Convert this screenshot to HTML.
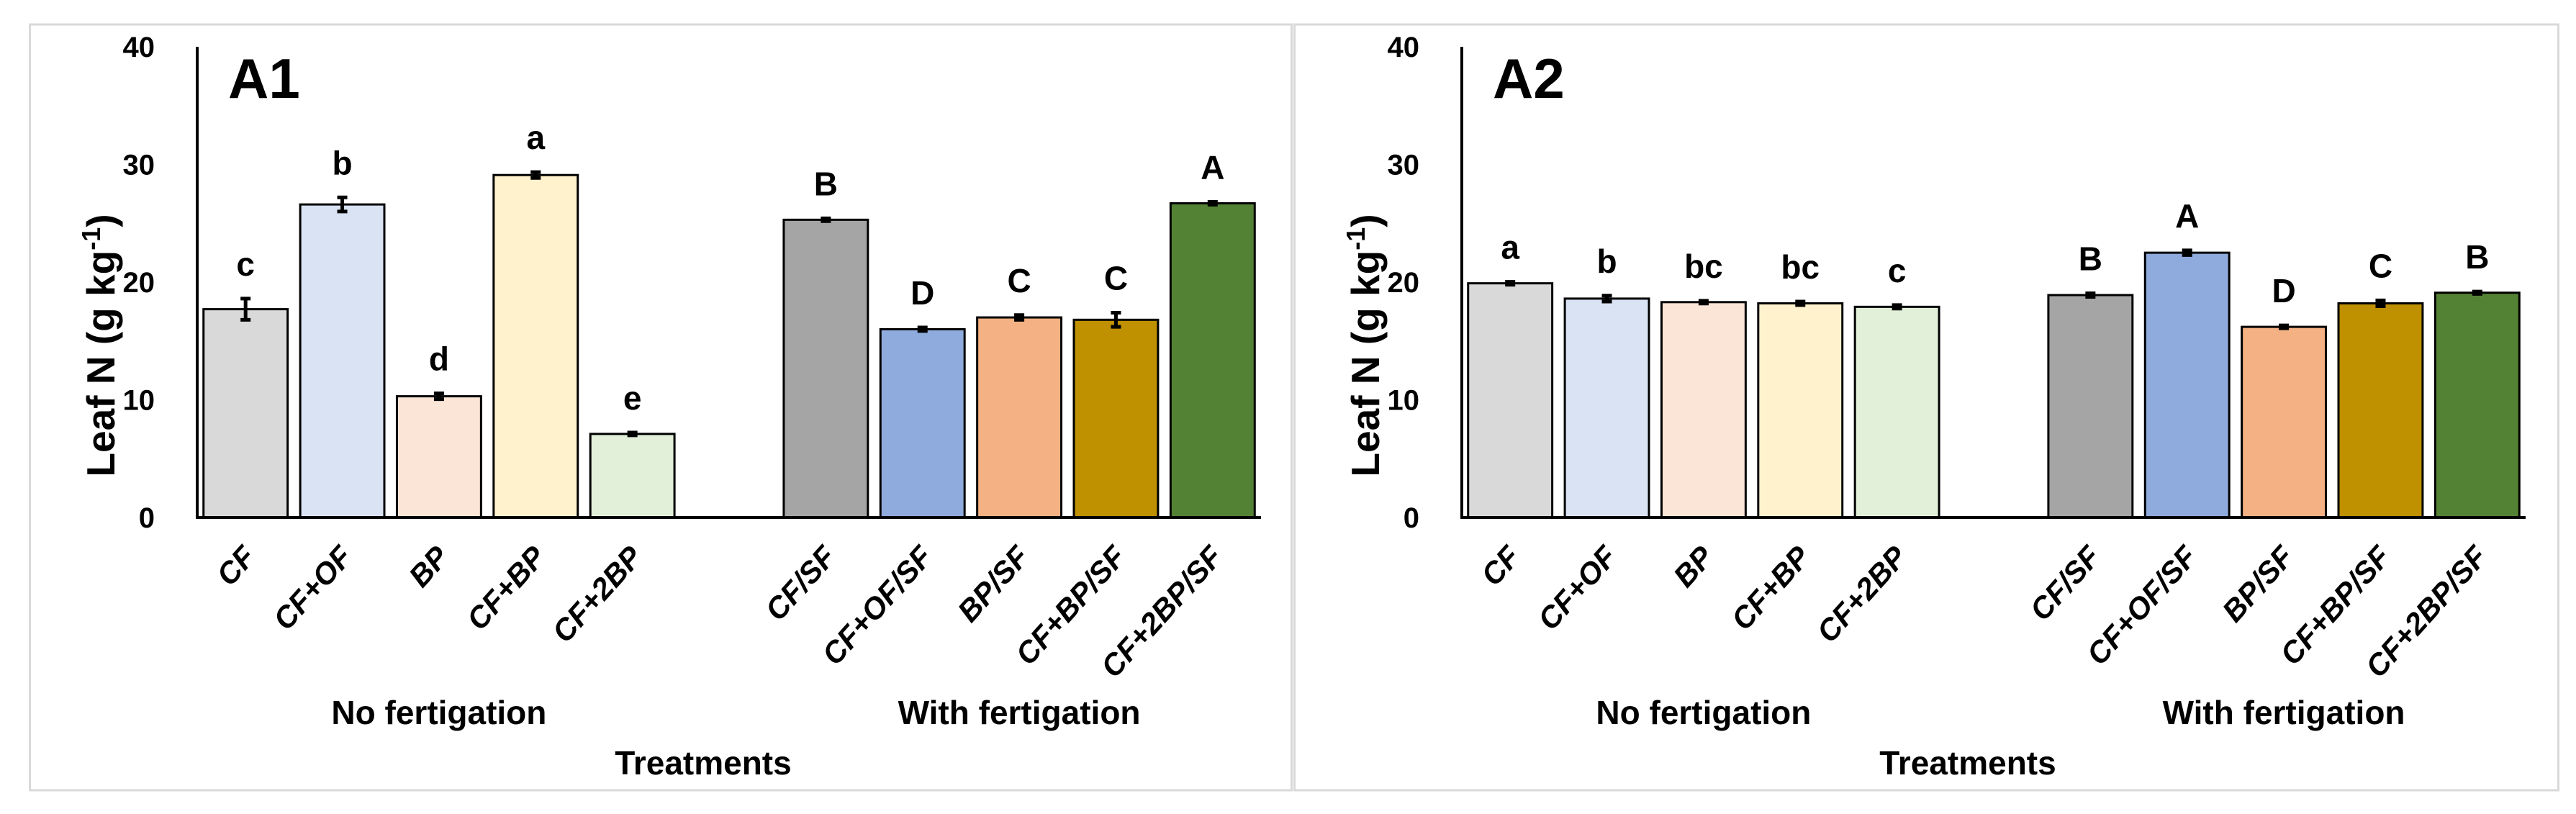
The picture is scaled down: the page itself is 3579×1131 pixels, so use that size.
<!DOCTYPE html>
<html><head><meta charset="utf-8"><style>
html,body{margin:0;padding:0;background:#fff;}
svg{display:block;font-family:"Liberation Sans",sans-serif;}
</style></head><body>
<svg id="chart" width="3579" height="1131" viewBox="0 0 3579 1131"></svg>
<script>
const categories = ["CF","CF+OF","BP","CF+BP","CF+2BP","","CF/SF","CF+OF/SF","BP/SF","CF+BP/SF","CF+2BP/SF"];
const valuesA1 = [17.7,26.6,10.3,29.1,7.1,null,25.3,16.0,17.0,16.8,26.7];
const errorsA1 = [0.9,0.6,0.25,0.25,0.12,null,0.12,0.15,0.2,0.6,0.12];
const lettersA1 = ["c","b","d","a","e","","B","D","C","C","A"];
const valuesA2 = [19.9,18.6,18.3,18.2,17.9,null,18.9,22.5,16.2,18.2,19.1];
const errorsA2 = [0.12,0.25,0.12,0.15,0.15,null,0.15,0.2,0.12,0.25,0.1];
const lettersA2 = ["a","b","bc","bc","c","","B","A","D","C","B"];
const yTicks = [0,10,20,30,40];
const colors = ["#d9d9d9","#dae3f3","#fbe5d6","#fff2cc","#e2f0d9","","#a5a5a5","#8faadc","#f4b183","#bf9000","#548235"];

const svg = document.getElementById('chart');
const NS = "http://www.w3.org/2000/svg";
function mk(tag, attrs, parent){
  const e = document.createElementNS(NS, tag);
  for (const k in attrs) e.setAttribute(k, attrs[k]);
  parent.appendChild(e);
  return e;
}
function panel(ox, frameW, title, values, errors, letters, key){
  const g = mk('g', {}, svg);
  
  
  const x0 = ox + 234, x1 = ox + 1712, yTop = 65, yBot = 719;
  const yScale = v => yBot - (v / 40) * (yBot - yTop);
  const slot = (x1 - x0) / categories.length;
  const xCenter = i => x0 + slot * (i + 0.5);
  const bw = slot * 0.87;
  const frame = mk('rect', {x: ox + 1.5, y: 34, width: frameW, height: 1064, fill: 'none', stroke: '#d9d9d9', 'stroke-width': 3}, g);
  
  
  yTicks.forEach(t => {
    const tl = mk('text', {x: ox + 175, y: yScale(t) + 14, 'text-anchor': 'end', 'font-size': 40, 'font-weight': 'bold'}, g);
    tl.textContent = t;
    
    
  });
  values.forEach((v, i) => {
    if (v === null) return;
    const cx = xCenter(i);
    const bar = mk('rect', {x: cx - bw / 2, y: yScale(v), width: bw, height: yBot - yScale(v), fill: colors[i], stroke: '#000', 'stroke-width': 3}, g);
    
    
    const e = errors[i];
    const eb = mk('path', {d: `M${cx},${yScale(v + e)}V${yScale(v - e)}M${cx - 7},${yScale(v + e)}h14M${cx - 7},${yScale(v - e)}h14`, stroke: '#000', 'stroke-width': 5, fill: 'none'}, g);
    
    
    const lt = mk('text', {x: cx, y: yScale(v + e) - 32, 'text-anchor': 'middle', 'font-size': 46, 'font-weight': 'bold'}, g);
    lt.textContent = letters[i];
    
    
    const cl = mk('text', {x: 0, y: 0, 'text-anchor': 'end', 'font-size': 42, 'font-weight': 'bold', 'font-style': 'italic', transform: `translate(${cx + 16},${yBot + 56}) rotate(-48)`}, g);
    cl.textContent = categories[i];
    
    
  });
  const ax = mk('path', {d: `M${x0},${yTop}V${yBot}H${x1}`, stroke: '#000', 'stroke-width': 4, fill: 'none'}, g);
  
  
  const tt = mk('text', {x: ox + 277, y: 136, 'font-size': 78, 'font-weight': 'bold'}, g);
  tt.textContent = title;
  
  
  const yl = mk('text', {x: 0, y: 0, 'text-anchor': 'middle', 'font-size': 55, 'font-weight': 'bold', transform: `translate(${ox + 119},${480}) rotate(-90)`}, g);
  yl.innerHTML = 'Leaf N (g kg<tspan dy="-20" font-size="36">-1</tspan><tspan dy="20">)</tspan>';
  
  
  const g1 = mk('text', {x: (xCenter(0) + xCenter(4)) / 2, y: 1006, 'text-anchor': 'middle', 'font-size': 46, 'font-weight': 'bold'}, g);
  g1.textContent = 'No fertigation';
  
  
  const g2 = mk('text', {x: (xCenter(6) + xCenter(10)) / 2, y: 1006, 'text-anchor': 'middle', 'font-size': 46, 'font-weight': 'bold'}, g);
  g2.textContent = 'With fertigation';
  
  
  const xt = mk('text', {x: (x0 + x1) / 2 - 36, y: 1076, 'text-anchor': 'middle', 'font-size': 46, 'font-weight': 'bold'}, g);
  xt.textContent = 'Treatments';
  
  
}
panel(40, 1753, 'A1', valuesA1, errorsA1, lettersA1, 'a1');
panel(1797, 1756, 'A2', valuesA2, errorsA2, lettersA2, 'a2');
</script>
</body></html>
